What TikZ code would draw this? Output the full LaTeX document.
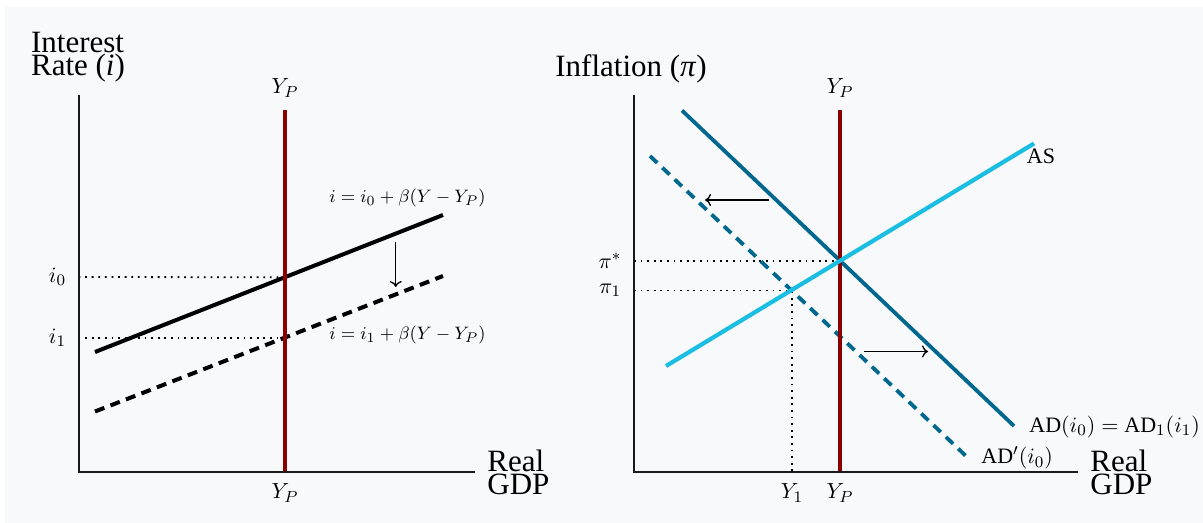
\documentclass[tikz,border=0pt]{standalone}
\usepackage{fontspec}
\setmainfont{Liberation Serif}
\usepackage{tikz}
\usetikzlibrary{arrows.meta}
\definecolor{potred}{HTML}{8B0000}
\definecolor{adblue}{HTML}{00678F}
\definecolor{ascyan}{HTML}{1ABEE2}
\definecolor{panel}{HTML}{F8F9FA}
\definecolor{axisc}{HTML}{1A1A1A}
\tikzset{
  axisl/.style={draw=axisc, line width=1pt},
  potl/.style={draw=potred, line width=1.75pt},
  mpl/.style={draw=black, line width=2pt},
  mpdash/.style={mpl, dash pattern=on 5pt off 3.3pt},
  adl/.style={draw=adblue, line width=1.9pt},
  addash/.style={adl, dash pattern=on 5pt off 3.5pt},
  asl/.style={draw=ascyan, line width=2.1pt},
  guide/.style={draw=black, line width=0.9pt, dash pattern=on 0.9pt off 2.4pt},
  shiftar/.style={-{To[length=3pt,width=6pt]}, draw=black, line width=0.65pt},
  lbl/.style={font=\fontsize{11}{12}\selectfont, inner sep=0pt},
  eqn/.style={font=\fontsize{9.5}{11}\selectfont, inner sep=0pt},
  ttl/.style={font=\fontsize{15.5}{11.8}\selectfont, align=left, inner sep=0pt},
}

\begin{document}
\begin{tikzpicture}[x=0.5pt, y=-0.5pt]
  \useasboundingbox (0,0) rectangle (1203,523);
  \fill[white] (0,0) rectangle (1203,523);
  \fill[panel] (5,7) rectangle (1203,523);

  % --- left panel: monetary policy rule ---
  \coordinate (lo) at (78.5,472);
  \coordinate (ltop) at (78.5,95);
  \coordinate (lend) at (474.5,472);
  \coordinate (lpt) at (285,110);
  \coordinate (lpb) at (285,472);
  \coordinate (mpa) at (95,352);
  \coordinate (mpb) at (443,215);
  \coordinate (mpc) at (95,411.5);
  \coordinate (mpd) at (443,276);
  \coordinate (izero) at (285,277.3);
  \coordinate (ione) at (285,338);
  \coordinate (dna) at (395.7,242);
  \coordinate (dnb) at (395.7,287);

  \node[ttl, anchor=north west] (irate) at (30.7,31.7) {Interest\\Rate (\textit{i})};
  \node[ttl, anchor=west] (lgdp) at (487,472.5) {Real\\GDP};
  \node[lbl] (lyp) at (285,88) {$Y_P$};
  \node[lbl] (lypb) at (285,493) {$Y_P$};
  \node[lbl] (li0) at (57.5,277) {$i_0$};
  \node[lbl] (li1) at (57.5,338) {$i_1$};
  \node[eqn] (eqa) at (407.5,198) {$i = i_0 + \beta(Y - Y_P)$};
  \node[eqn] (eqb) at (407.5,335) {$i = i_1 + \beta(Y - Y_P)$};

  \draw[guide] (li0.east -| lo) -- (izero);
  \draw[guide] (li1.east -| lo) -- (ione);
  \draw[mpl] (mpa) -- (mpb);
  \draw[mpdash] (mpc) -- (mpd);
  \draw[potl] (lpt) -- (lpb);
  \draw[axisl] (ltop) -- (lo) -- (lend);
  \draw[shiftar] (dna) -- (dnb);

  % --- right panel: AD-AS ---
  \coordinate (ro) at (634,472);
  \coordinate (rtop) at (634,95);
  \coordinate (rend) at (1078,472);
  \coordinate (rpt) at (840,110);
  \coordinate (rpb) at (840,472);
  \coordinate (ada) at (682,110.5);
  \coordinate (adb) at (1014,426);
  \coordinate (asa) at (666,366);
  \coordinate (asb) at (1034,143.5);
  \coordinate (adpa) at (650,156);
  \coordinate (adpb) at (967,457);
  \coordinate (eqm) at (840,261);
  \coordinate (pone) at (791.7,290.5);
  \coordinate (yone) at (791.7,472);
  \coordinate (lfa) at (769,200);
  \coordinate (lfb) at (705,200);
  \coordinate (rta) at (864,351.5);
  \coordinate (rtb) at (928,351.5);

  \node[ttl, anchor=base west] (infl) at (555,77) {Inflation (\textit{π})};
  \node[ttl, anchor=west] (rgdp) at (1090,472.5) {Real\\GDP};
  \node[lbl] (ryp) at (840,88) {$Y_P$};
  \node[lbl] (rypb) at (840,493) {$Y_P$};
  \node[lbl] (ry1) at (792,493) {$Y_1$};
  \node[lbl] (pstar) at (610,261) {$\pi^*$};
  \node[lbl] (pi1) at (610,290) {$\pi_1$};
  \node[lbl] (aslab) at (1041,156) {AS};
  \node[lbl, anchor=west] (adlab) at (1029,427) {$\mathrm{AD}(i_0) = \mathrm{AD}_1(i_1)$};
  \node[lbl, anchor=west] (adplab) at (981,458) {$\mathrm{AD}'(i_0)$};

  \draw[guide] (ro |- eqm) -- (eqm);
  \draw[guide] (ro |- pone) -- (pone) -- (yone);
  \draw[addash] (adpa) -- (adpb);
  \draw[adl] (ada) -- (adb);
  \draw[potl] (rpt) -- (rpb);
  \draw[asl] (asa) -- (asb);
  \draw[axisl] (rtop) -- (ro) -- (rend);
  \draw[shiftar] (lfa) -- (lfb);
  \draw[shiftar] (rta) -- (rtb);
\end{tikzpicture}
\end{document}
